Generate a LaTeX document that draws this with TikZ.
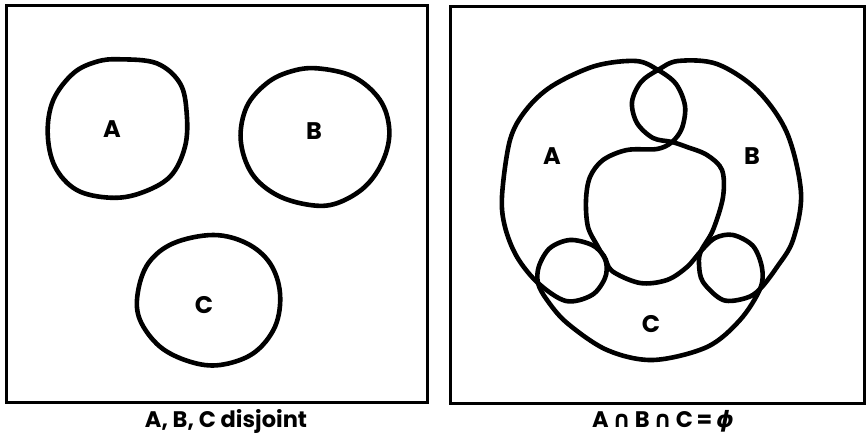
\documentclass[tikz,border=0pt]{standalone}
\usepackage{fontspec}
\setmainfont{Poppins}
\newfontfamily\symfont{DejaVu Sans}
\tikzset{
  frame/.style={line width=3pt, line join=miter},
  setcurve/.style={line width=4.6pt, line join=round},
  lbl/.style={font=\fontsize{24}{28}\selectfont\bfseries, inner sep=0pt},
  captext/.style={font=\fontsize{22.5}{26}\selectfont\bfseries, inner sep=0pt}
}
\newcommand{\capsym}{{\symfont\bfseries\fontsize{23}{26}\selectfont ∩}}
\newcommand{\phisym}{{\symfont\bfseries\itshape ϕ}}
\begin{document}
\begin{tikzpicture}[x=1pt,y=-1pt]
\useasboundingbox (0,0) rectangle (866,438);
% frames
\draw[frame] (6,6) rectangle (427,402);
\draw[frame] (450,7) rectangle (864,403);
% left panel: disjoint sets
\draw[setcurve] plot[smooth cycle, tension=0.6] coordinates {
 (120,59.3) (156.7,63.3) (180,83.3) (186.7,113.3) (185,146.7) (170,176.7)
 (140,193.3) (110,197.7) (76.7,190) (55,166.7) (47.7,133.3) (53.3,100)
 (73.3,73.3) (96.7,61.7)};
\draw[setcurve] plot[smooth cycle, tension=0.6] coordinates {
 (316.7,68.3) (353.3,76.7) (380,100) (389.3,130) (383.3,160) (365,186.7)
 (336.7,203.3) (310,205) (276.7,195) (251.7,173.3) (240.7,140) (246.7,106.7)
 (266.7,83.3) (290,71.7)};
\draw[setcurve] plot[smooth cycle, tension=0.6] coordinates {
 (213.3,235) (246.7,243.3) (270,263.3) (280,293.3) (275,326.7) (253.3,353.3)
 (220,365) (190,361.7) (160,346.7) (140,320) (137.7,293.3) (148.3,263.3)
 (173.3,243.3)};
\node[lbl] (lA) at (112,129) {A};
\node[lbl] (lB) at (314,131) {B};
\node[lbl] (lC) at (204,305) {C};
% right panel: A
\draw[setcurve] plot[smooth cycle, tension=0.55] coordinates {
 (658,70) (636,61) (595,66) (552,86) (526,110) (510,140) (502,196) (505,227)
 (517,257) (538,283) (566,301) (592,295) (605,278) (606,262) (598,247)
 (588,227) (586,200) (590,177) (603,160) (627,150) (657,149) (672,142)
 (682,128) (685,106) (676,84)};
% right panel: B
\draw[setcurve] plot[smooth cycle, tension=0.55] coordinates {
 (658,70) (678,61) (717,64) (757,90) (787,133) (801,193) (793,240) (777,267)
 (760,289) (746,298) (723,300) (703,282) (699,264) (701,251) (713,230)
 (723,197) (722,170) (707,155) (687,147) (672,142) (653,138) (637,123)
 (632,102) (641,82)};
% right panel: C
\draw[setcurve] plot[smooth cycle, tension=0.55] coordinates {
 (538,283) (539,266) (550,248) (570,240) (592,245) (604,256) (612,271)
 (640,283) (667,280) (687,267) (701,251) (715,238) (733,235) (753,246)
 (762,268) (760,289) (740,320) (707,347) (653,360) (607,350) (567,323)
 (547,300)};
\node[lbl] (rA) at (552,156) {A};
\node[lbl] (rB) at (752,156) {B};
\node[lbl] (rC) at (651,324) {C};
% captions
\node[captext] (capL) at (226,421) {A, B, C disjoint};
\node[captext] (capR) at (663,421) {A\,\capsym\,B\,\capsym\,C\,=\,\phisym};
\end{tikzpicture}
\end{document}
